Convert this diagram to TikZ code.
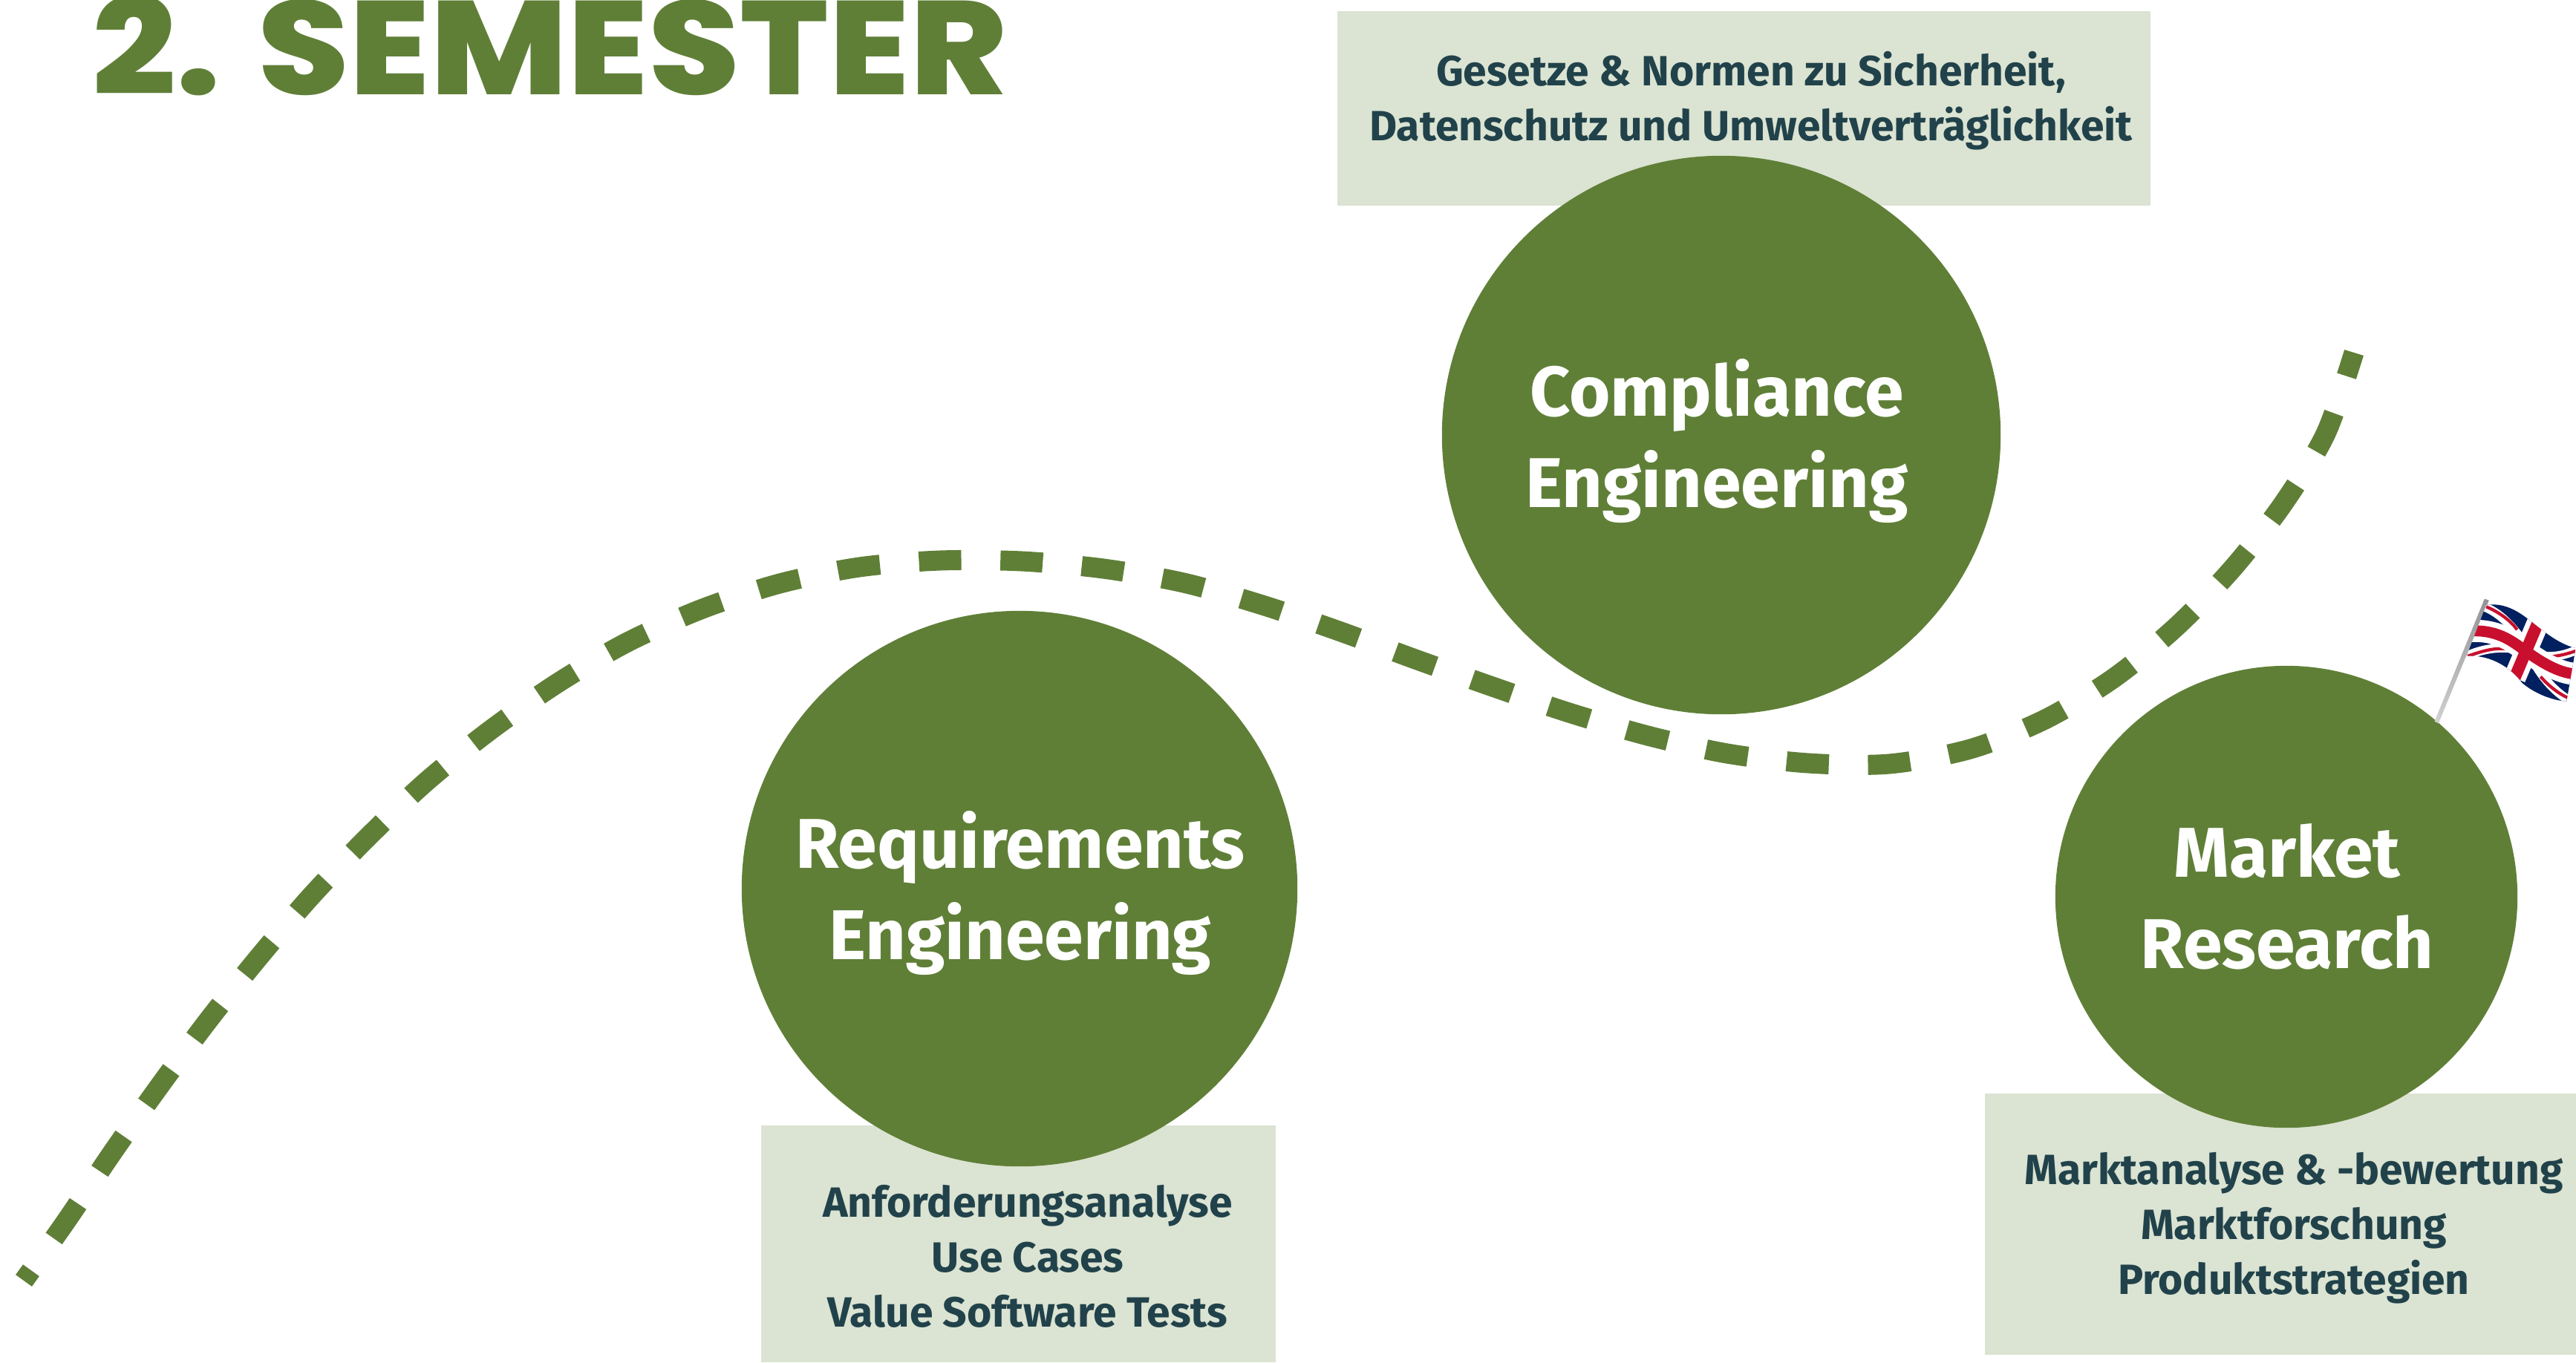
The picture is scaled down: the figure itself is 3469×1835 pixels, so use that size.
\documentclass[tikz,border=0pt]{standalone}
\usepackage{fontspec}
\setmainfont{Fira Sans}
\newfontfamily\titlefont{Poppins}[UprightFont=* ExtraBold,FakeStretch=1.106]
\usepackage{tikz}

\definecolor{wegGreen}{HTML}{5F7F37}
\definecolor{boxGreen}{HTML}{DBE3D2}
\definecolor{boxText}{HTML}{21424A}
\definecolor{ukBlue}{HTML}{00205F}
\definecolor{ukRed}{HTML}{C8102E}

\tikzset{
	modul/.style={circle,fill=wegGreen,inner sep=0pt},
	modultext/.style={text=white,font=\fontsize{27}{35}\selectfont\bfseries,align=center,inner sep=0pt},
	infobox/.style={fill=boxGreen},
	infotext/.style={text=boxText,font=\fontsize{16.2}{21}\selectfont\bfseries,align=center,inner sep=0pt},
	ukwhite/.style={draw=white,line width=3.4pt},
	ukred/.style={draw=ukRed,line width=1.2pt}
}

\begin{document}
\begin{tikzpicture}[x=0.01cm,y=-0.01cm]
	\useasboundingbox (0,0) rectangle (3469,1835);

	\node[anchor=base west,inner sep=0pt,text=wegGreen,font=\fontsize{51}{51}\selectfont\titlefont] (titel) at (124,127) {2. SEMESTER};

	% weg
	\draw[wegGreen,line width=0.27cm,dash pattern=on 0.57cm off 0.527cm,dash phase=0.40cm]
		plot[smooth] coordinates {(32,1725) (89,1645) (151,1553) (214,1464) (280,1375) (348,1290) (420,1206) (496,1127) (575,1052) (661,983) (751,920) (845,865) (946,820) (1050,786) (1157,764) (1266,755) (1376,756) (1486,766) (1594,785) (1700,815) (1803,850) (1906,888) (2010,925) (2113,960) (2219,991) (2326,1015) (2435,1028) (2544,1029) (2653,1009) (2754,969) (2847,913) (2932,843) (3008,764) (3075,678) (3132,584) (3170,475)};

	% boxen
	\fill[infobox] (1801,15) rectangle (2896,277);
	\fill[infobox] (1025,1516) rectangle (1718,1835);
	\fill[infobox] (2673,1473) rectangle (3469,1825);

	\node[modul,minimum size=7.48cm] (requirements) at (1373,1197) {};
	\node[modul,minimum size=7.52cm] (compliance) at (2318,586) {};
	\node[modul,minimum size=6.22cm] (market) at (3079,1208) {};

	\node[modultext] (requirementstext) at (1374,1203) {Requirements\\Engineering};
	\node[modultext] (compliancetext) at (2312,594) {Compliance\\Engineering};
	\node[modultext] (markettext) at (3080,1208) {Market\\Research};

	\node[infotext] (compliancebox) at (2358,136) {Gesetze \& Normen zu Sicherheit,\\Datenschutz und Umweltverträglichkeit};
	\node[infotext] (requirementsbox) at (1384,1692) {Anforderungsanalyse\\Use Cases\\Value Software Tests};
	\node[infotext] (marketbox) at (3089,1654) {Marktanalyse \& -bewertung\\Marktforschung\\Produktstrategien};

	% flagge
	\begin{scope}[shift={(3200,780)},x=0.003333cm,y=-0.003333cm]
		\shade[top color=black!42,bottom color=black!18] (236,576) -- (438,80) -- (456,86) -- (252,584) -- cycle;
		\begin{scope}
			\clip (445,105) .. controls (540,90) and (610,160) .. (650,190) .. controls (700,230) and (750,265) .. (807,280) -- (770,495) .. controls (700,490) and (630,455) .. (590,420) .. controls (530,340) and (440,305) .. (365,312) -- cycle;
			\fill[ukBlue] (350,80) rectangle (810,500);
			\draw[ukwhite] (430,110) .. controls (520,140) and (590,240) .. (620,300) .. controls (650,370) and (710,450) .. (780,490);
			\draw[ukwhite] (365,312) .. controls (420,285) and (520,260) .. (620,300) .. controls (700,325) and (760,310) .. (815,285);
			\draw[ukred] (445,112) .. controls (500,135) and (545,170) .. (570,205);
			\draw[ukred] (665,395) .. controls (700,435) and (740,465) .. (778,482);
			\draw[ukred] (370,312) .. controls (420,295) and (500,265) .. (565,293);
			\draw[ukred] (660,312) .. controls (710,320) and (770,305) .. (815,288);
			\draw[draw=white,line width=8.5pt] (655,175) -- (560,400);
			\draw[draw=white,line width=8.5pt] (385,210) .. controls (500,205) and (560,260) .. (610,295) .. controls (680,345) and (750,385) .. (820,385);
			\draw[draw=ukRed,line width=4.6pt] (655,175) -- (560,400);
			\draw[draw=ukRed,line width=4.2pt] (385,210) .. controls (500,205) and (560,260) .. (610,295) .. controls (680,345) and (750,385) .. (820,385);
		\end{scope}
	\end{scope}
\end{tikzpicture}
\end{document}
